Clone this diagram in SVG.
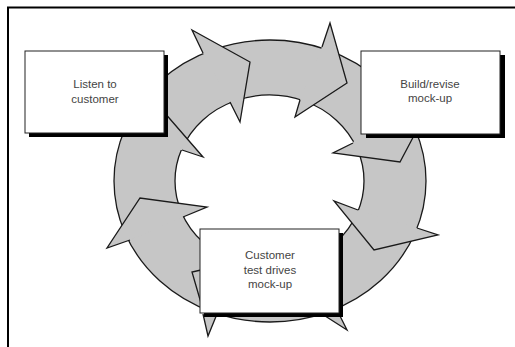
<svg xmlns="http://www.w3.org/2000/svg" width="515" height="347" viewBox="0 0 515 347">
<defs>
<style>
.ring{fill:#c6c6c6;stroke:#1a1a1a;stroke-width:1.3;fill-rule:evenodd}
.hf{fill:#c6c6c6;stroke:none}
.hs{fill:none;stroke:#1a1a1a;stroke-width:1.3;stroke-linejoin:miter;stroke-miterlimit:10}
.shadow{fill:#000}
.box{fill:#fff;stroke:#222;stroke-width:1}
.lbl{font-family:"Liberation Sans","DejaVu Sans",sans-serif;font-size:11.5px;fill:#444;text-anchor:middle}
.frame{fill:none;stroke:#000;stroke-width:2}
</style>
</defs>
<rect width="515" height="347" fill="#fff"/>
<path class="frame" d="M8,347 V7.5 H515"/>
<g id="connectors">
<path class="ring" d="M114,181 A156,141 0 1,0 426,181 A156,141 0 1,0 114,181 Z M175,181 A94.5,86 0 1,0 364,181 A94.5,86 0 1,0 175,181 Z"/>
<g id="head-a"><polygon class="hf" points="203,53 192,30 250,62 240,122 230,102"/><polyline class="hs" points="203,53 192,30 250,62 240,122 230,102"/></g>
<g id="head-b"><polygon class="hf" points="322,47 330,23 347,83 295,117 300,100"/><polyline class="hs" points="322,47 330,23 347,83 295,117 300,100"/></g>
<g id="head-c"><polygon class="hf" points="417,228 438,235 374,250 334,201 358,210"/><polyline class="hs" points="417,228 438,235 374,250 334,201 358,210"/></g>
<g id="head-d"><polygon class="hf" points="130,240 107,248 140,198 207,207 183,217"/><polyline class="hs" points="130,240 107,248 140,198 207,207 183,217"/></g>
<g id="head-e"><polygon class="hf" points="150,96 203,157 182,150 150,150"/><polyline class="hs" points="150,96 203,157 182,150"/></g>
<g id="head-f"><polygon class="hf" points="353,143 333,153 400,162 418,128 362,125"/><polyline class="hs" points="418,128 400,162 333,153 353,143"/></g>
<g id="head-g"><polygon class="hf" points="201,270 192,272 201,303"/><polyline class="hs" points="201,270 192,272 201,303"/></g>
<g id="head-h"><polygon class="hf" points="203,314 208,336 217,314"/><polyline class="hs" points="203,314 208,336 217,314"/></g>
<g id="head-i"><polygon class="hf" points="322,314 347,330 338,312"/><polyline class="hs" points="322,314 347,330 338,312"/></g>
</g>
<g id="node-listen">
<rect class="shadow" x="29" y="55" width="139" height="82"/>
<rect class="box" x="25" y="51" width="139" height="82"/>
<text class="lbl" x="95" y="88">Listen to</text>
<text class="lbl" x="95" y="103">customer</text>
</g>
<g id="node-build">
<rect class="shadow" x="366" y="55" width="139" height="83"/>
<rect class="box" x="361" y="51" width="139" height="83"/>
<text class="lbl" x="430" y="88">Build/revise</text>
<text class="lbl" x="430" y="102">mock-up</text>
</g>
<g id="node-test">
<rect class="shadow" x="204" y="233" width="139" height="84"/>
<rect class="box" x="200" y="229" width="139" height="84"/>
<text class="lbl" x="270" y="259">Customer</text>
<text class="lbl" x="270" y="274">test drives</text>
<text class="lbl" x="270" y="288">mock-up</text>
</g>
</svg>
